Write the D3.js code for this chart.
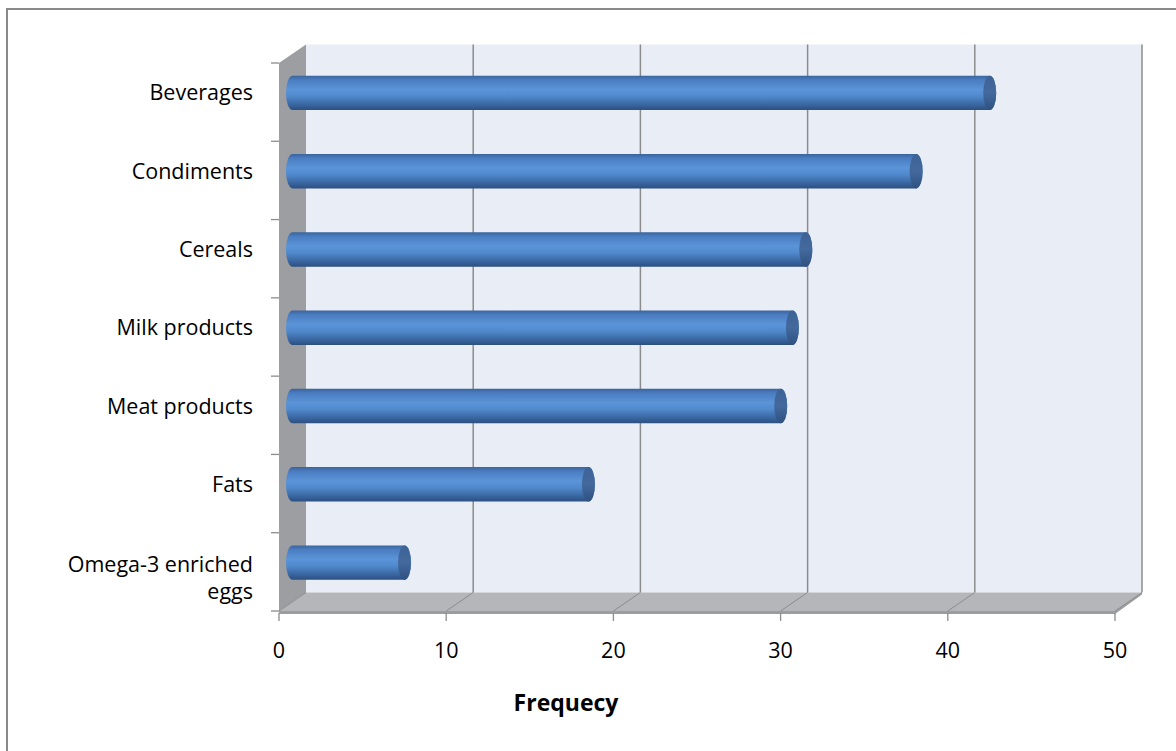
<!DOCTYPE html>
<html>
<head>
<meta charset="utf-8">
<script src="https://cdn.jsdelivr.net/npm/d3@7/dist/d3.min.js"></script>
<style>
  html, body { margin: 0; padding: 0; background: #ffffff; }
  svg { display: block; }
  text { font-family: "Open Sans", Lato, sans-serif; fill: #000; }
</style>
</head>
<body>
<svg id="chart" width="1176" height="751"></svg>
<script>
// Food groups and their frequencies
const categories = ["Beverages", "Condiments", "Cereals", "Milk products", "Meat products", "Fats", "Omega-3 enriched eggs"];
const values = [41.7, 37.3, 30.7, 29.9, 29.2, 17.7, 6.7];
const xTicks = [0, 10, 20, 30, 40, 50];
const xTitle = "Frequecy";

const svg = d3.select("#chart");

// Outer chart frame
svg.append("rect")
  .attr("x", 7).attr("y", 9).attr("width", 1200).attr("height", 800)
  .attr("fill", "#fff").attr("stroke", "#8a8a8a").attr("stroke-width", 2);

// Front plane scales plus the depth offset of the back wall
const x = d3.scaleLinear().domain([0, 50]).range([279, 1115]);
const y = d3.scaleBand().domain(categories).range([63, 611]);
const dx = 27, dy = -18.5;
const yTop = y.range()[0], yBot = y.range()[1];

const defs = svg.append("defs");
const body = defs.append("linearGradient").attr("id", "cylBody")
  .attr("x1", 0).attr("y1", 0).attr("x2", 0).attr("y2", 1);
[[0, "#3a649c"], [0.12, "#4a7cc0"], [0.4, "#5b94d8"], [0.6, "#5089cc"], [0.85, "#39659f"], [1, "#2c4f80"]]
  .forEach(([o, c]) => body.append("stop").attr("offset", o).attr("stop-color", c));
const cap = defs.append("linearGradient").attr("id", "cylCap")
  .attr("x1", 0).attr("y1", 0).attr("x2", 0).attr("y2", 1);
[[0, "#3c6296"], [0.5, "#43699d"], [1, "#2f5180"]]
  .forEach(([o, c]) => cap.append("stop").attr("offset", o).attr("stop-color", c));

// Back wall
svg.append("rect")
  .attr("x", x(0) + dx).attr("y", yTop + dy)
  .attr("width", x(50) - x(0)).attr("height", yBot - yTop)
  .attr("fill", "#e9edf6");

// Left side wall
svg.append("path")
  .attr("d", `M${x(0)},${yTop} L${x(0) + dx},${yTop + dy} L${x(0) + dx},${yBot + dy} L${x(0)},${yBot} Z`)
  .attr("fill", "#9c9ea2");

// Floor with a thin front edge
svg.append("path")
  .attr("d", `M${x(0)},${yBot} L${x(0) + dx},${yBot + dy} L${x(50) + dx},${yBot + dy} L${x(50)},${yBot} Z`)
  .attr("fill", "#b4b6ba");
svg.append("path")
  .attr("d", `M${x(0)},${yBot} L${x(50)},${yBot} L${x(50) + dx},${yBot + dy} L${x(50) + dx},${yBot + dy + 2} L${x(50)},${yBot + 3} L${x(0)},${yBot + 3} Z`)
  .attr("fill", "#9b9da1");

// Gridlines on the back wall and their traces across the floor
svg.append("g").selectAll("line.grid").data(xTicks.filter(d => d > 0)).join("line")
  .attr("x1", d => x(d) + dx).attr("x2", d => x(d) + dx)
  .attr("y1", yTop + dy).attr("y2", yBot + dy)
  .attr("stroke", "#8c8c8c").attr("stroke-width", 1.5);
svg.append("g").selectAll("line.floor").data(xTicks).join("line")
  .attr("x1", d => x(d) + dx).attr("y1", yBot + dy)
  .attr("x2", d => x(d)).attr("y2", yBot)
  .attr("stroke", "#8c8c8c").attr("stroke-width", 1);

// Axis ticks
svg.append("g").selectAll("line").data(xTicks).join("line")
  .attr("x1", d => x(d)).attr("x2", d => x(d))
  .attr("y1", yBot + 2).attr("y2", yBot + 10)
  .attr("stroke", "#8c8c8c").attr("stroke-width", 1.3);
const bandEdges = categories.map(c => y(c)).concat([yBot]);
svg.append("g").selectAll("line").data(bandEdges).join("line")
  .attr("x1", x(0) - 8).attr("x2", x(0))
  .attr("y1", d => d).attr("y2", d => d)
  .attr("stroke", "#8c8c8c").attr("stroke-width", 1.3);

// Cylinders sit halfway into the depth of the plot
const hx = dx / 2, hy = dy / 2;
const barH = y.bandwidth() * 0.44;
const rx = 6.5, ry = barH / 2;
const bars = svg.append("g").selectAll("g").data(categories).join("g");
bars.append("path")
  .attr("d", (c, i) => {
    const x0 = x(0) + hx, x1 = x(values[i]) + hx;
    const cy = y(c) + y.bandwidth() / 2 + hy;
    const t = cy - ry, b = cy + ry;
    return `M${x0},${t} L${x1},${t} A${rx},${ry} 0 0 1 ${x1},${b} L${x0},${b} A${rx},${ry} 0 0 1 ${x0},${t} Z`;
  })
  .attr("fill", "url(#cylBody)");
bars.append("ellipse")
  .attr("cx", (c, i) => x(values[i]) + hx)
  .attr("cy", c => y(c) + y.bandwidth() / 2 + hy)
  .attr("rx", rx).attr("ry", ry)
  .attr("fill", "url(#cylCap)");

// Category labels (the long one wraps onto two lines)
const labelLines = c => c === "Omega-3 enriched eggs" ? ["Omega-3 enriched", "eggs"] : [c];
const labels = svg.append("g").selectAll("text").data(categories).join("text")
  .attr("text-anchor", "end")
  .attr("font-size", 21.5)
  .attr("transform", c => `translate(253,${y(c) + y.bandwidth() / 2 + hy})`);
labels.each(function (c) {
  const lines = labelLines(c);
  const t = d3.select(this);
  const lh = 27;
  lines.forEach((s, k) => {
    t.append("tspan").attr("x", 0)
      .attr("y", (k - (lines.length - 1) / 2) * lh + (lines.length > 1 ? 15 : 0))
      .attr("dy", "0.35em").text(s);
  });
});

// Value axis labels
svg.append("g").selectAll("text").data(xTicks).join("text")
  .attr("x", d => x(d)).attr("y", 650)
  .attr("dy", "0.35em")
  .attr("text-anchor", "middle").attr("font-size", 21.5)
  .text(d => d);

svg.append("text")
  .attr("x", 566).attr("y", 703).attr("dy", "0.35em")
  .attr("text-anchor", "middle").attr("font-size", 23).attr("font-weight", "bold")
  .text(xTitle);
</script>
</body>
</html>
